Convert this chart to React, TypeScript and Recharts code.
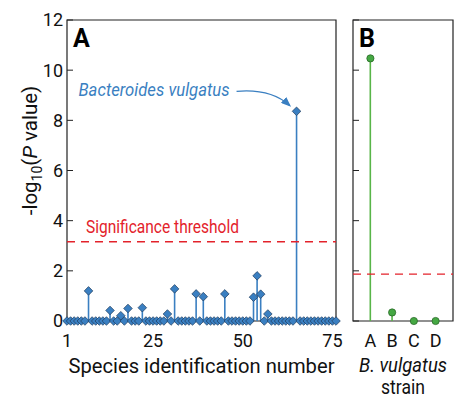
import React from "react"
import { Bar, ComposedChart, Label, ReferenceArea, ReferenceDot, ReferenceLine, Scatter, XAxis, YAxis } from "recharts"

const FONT = "Roboto, 'Liberation Sans', sans-serif"
const BLUE = "#3a7fc1"
const RED = "#e3222b"
const GREEN = "#58b548"

// panel A: -log10(P) per species, 1..76
const speciesValues = [
  0, 0, 0, 0, 0, 0, 1.2, 0, 0, 0,
  0, 0, 0.42, 0, 0, 0.21, 0, 0.5, 0, 0,
  0, 0.53, 0, 0, 0, 0, 0, 0, 0.28, 0,
  1.28, 0, 0, 0, 0, 0, 1.08, 0, 0.97, 0,
  0, 0, 0, 0, 1.08, 0, 0, 0, 0, 0,
  0, 0, 0.95, 1.8, 1.07, 0, 0.28, 0, 0, 0,
  0, 0, 0, 0, 8.36, 0, 0, 0, 0, 0,
  0, 0, 0, 0, 0, 0,
]
const speciesTicks = [1, 25, 50, 75]
const yTicks = [0, 2, 4, 6, 8, 10, 12]
const thresholdA = 3.16
const peakSpecies = 65

// panel B: B. vulgatus strains
const strainLabels = ["A", "B", "C", "D"]
const strainValues = [10.47, 0.34, 0, 0]
const thresholdB = 1.87

const dataA = speciesValues.map((v, i) => ({ species: i + 1, value: v }))
const dataB = strainValues.map((v, i) => ({ strain: i + 1, value: v }))

const Diamond = (props: any) => {
  const { cx, cy } = props
  const s = 4.3
  return (
    <polygon
      points={`${cx},${cy - s} ${cx + s},${cy} ${cx},${cy + s} ${cx - s},${cy}`}
      fill={BLUE}
      stroke="#1e3b5c"
      strokeWidth={0.7}
    />
  )
}

const GreenDot = (props: any) => {
  const { cx, cy } = props
  return <circle cx={cx} cy={cy} r={3.6} fill="#45a843" stroke="#2a6a28" strokeWidth={0.8} />
}

const panelLetter = (letter: string) => (props: any) => {
  const { x, y } = props.viewBox
  return (
    <text x={x + 6} y={y + 27} fontSize={25} fontWeight="bold" fontFamily={FONT} fill="#000">
      {letter}
    </text>
  )
}

const YLabel = (props: any) => {
  const { x, y, height } = props.viewBox
  const cx = x - 29
  const cy = y + height / 2 - 20
  return (
    <text x={cx} y={cy} transform={`rotate(-90, ${cx}, ${cy})`} textAnchor="middle" fontSize={20.5} fontFamily={FONT} fill="#111">
      <tspan>-log</tspan>
      <tspan fontSize={14} dy={5}>10</tspan>
      <tspan dy={-5}>(</tspan>
      <tspan fontStyle="italic">P</tspan>
      <tspan> value)</tspan>
    </text>
  )
}

const XLabelA = (props: any) => {
  const { x, y, width } = props.viewBox
  return (
    <text
      x={x + width / 2}
      y={y + 52}
      textAnchor="middle"
      fontSize={21}
      fontFamily={FONT}
      fill="#111"
      textLength={266}
      lengthAdjust="spacingAndGlyphs"
    >
      Species identification number
    </text>
  )
}

const XLabelB = (props: any) => {
  const { x, y, width } = props.viewBox
  return (
    <g fontSize={20} fontFamily={FONT} fill="#111">
      <text x={x + width / 2} y={y + 51} textAnchor="middle" fontStyle="italic" textLength={88} lengthAdjust="spacingAndGlyphs">
        B. vulgatus
      </text>
      <text x={x + width / 2} y={y + 73} textAnchor="middle" textLength={44} lengthAdjust="spacingAndGlyphs">
        strain
      </text>
    </g>
  )
}

const ThresholdLabel = (props: any) => {
  const { x, y } = props.viewBox
  return (
    <text x={x + 19} y={y - 9} fontSize={18} fontFamily={FONT} fill={RED} textLength={153} lengthAdjust="spacingAndGlyphs">
      Significance threshold
    </text>
  )
}

const PeakLabel = (props: any) => {
  const { x, y } = props.viewBox
  return (
    <g>
      <defs>
        <marker id="arrowhead" markerWidth="10" markerHeight="8" refX="8" refY="4" orient="auto" markerUnits="userSpaceOnUse">
          <path d="M0,0 L10,4 L0,8 Z" fill={BLUE} />
        </marker>
      </defs>
      <text
        x={x - 218}
        y={y - 15}
        fontSize={18}
        fontStyle="italic"
        fontFamily={FONT}
        fill={BLUE}
        textLength={151}
        lengthAdjust="spacingAndGlyphs"
      >
        Bacteroides vulgatus
      </text>
      <path
        d={`M${x - 60},${y - 20} Q${x - 26},${y - 23} ${x - 7},${y - 6}`}
        fill="none"
        stroke={BLUE}
        strokeWidth={1.3}
        markerEnd="url(#arrowhead)"
      />
    </g>
  )
}

const tickStyle = { fontSize: 18, fill: "#111", fontFamily: FONT }

export default function App() {
  return (
    <div style={{ position: "absolute", left: 0, top: 0, width: 462, height: 400, fontFamily: FONT, background: "#fff" }}>
      <div style={{ position: "absolute", left: 0, top: 0 }}>
        <ComposedChart width={350} height={400} data={dataA} margin={{ top: 20, left: 66, right: 13, bottom: 19 }}>
          <ReferenceArea x1={1} x2={76} y1={0} y2={12} fill="none" stroke="#222" strokeWidth={1.2} label={<Label content={panelLetter("A")} />} />
          <XAxis
            dataKey="species"
            type="number"
            domain={[1, 76]}
            ticks={speciesTicks}
            interval={0}
            height={60}
            axisLine={false}
            tickLine={false}
            tickSize={0}
            tickMargin={13}
            tick={tickStyle}
            label={<Label content={XLabelA} />}
          />
          <YAxis
            domain={[0, 12]}
            ticks={yTicks}
            interval={0}
            width={1}
            axisLine={false}
            tickSize={-6}
            tickMargin={10}
            tickLine={{ stroke: "#222" }}
            tick={tickStyle}
            label={<Label content={YLabel} />}
          />
          <YAxis
            yAxisId="r"
            orientation="right"
            domain={[0, 12]}
            ticks={yTicks}
            interval={0}
            width={1}
            axisLine={false}
            tickSize={-6}
            tickLine={{ stroke: "#222" }}
            tickFormatter={() => ""}
          />
          <ReferenceLine y={thresholdA} stroke={RED} strokeDasharray="8 6" strokeWidth={1.3} label={<Label content={ThresholdLabel} />} />
          <Bar dataKey="value" barSize={1.6} fill={BLUE} isAnimationActive={false} />
          <Scatter dataKey="value" shape={<Diamond />} isAnimationActive={false} />
          <ReferenceDot x={peakSpecies} y={speciesValues[peakSpecies - 1]} r={0} stroke="none" fill="none" label={<Label content={PeakLabel} />} />
        </ComposedChart>
      </div>
      <div style={{ position: "absolute", left: 350, top: 0 }}>
        <ComposedChart width={112} height={400} data={dataB} margin={{ top: 20, left: 2, right: 9, bottom: 19 }}>
          <ReferenceArea x1={0.2} x2={4.8} y1={0} y2={12} fill="none" stroke="#222" strokeWidth={1.2} label={<Label content={panelLetter("B")} />} />
          <XAxis
            dataKey="strain"
            type="number"
            domain={[0.2, 4.8]}
            ticks={[1, 2, 3, 4]}
            interval={0}
            height={60}
            axisLine={false}
            tickLine={false}
            tickSize={0}
            tickMargin={13}
            tick={tickStyle}
            tickFormatter={(v: number) => strainLabels[v - 1]}
            label={<Label content={XLabelB} />}
          />
          <YAxis
            domain={[0, 12]}
            ticks={yTicks}
            interval={0}
            width={1}
            axisLine={false}
            tickSize={-6}
            tickLine={{ stroke: "#222" }}
            tickFormatter={() => ""}
          />
          <ReferenceLine y={thresholdB} stroke={RED} strokeDasharray="8 6" strokeWidth={1.3} />
          <Bar dataKey="value" barSize={1.6} fill={GREEN} isAnimationActive={false} />
          <Scatter dataKey="value" shape={<GreenDot />} isAnimationActive={false} />
        </ComposedChart>
      </div>
    </div>
  )
}
